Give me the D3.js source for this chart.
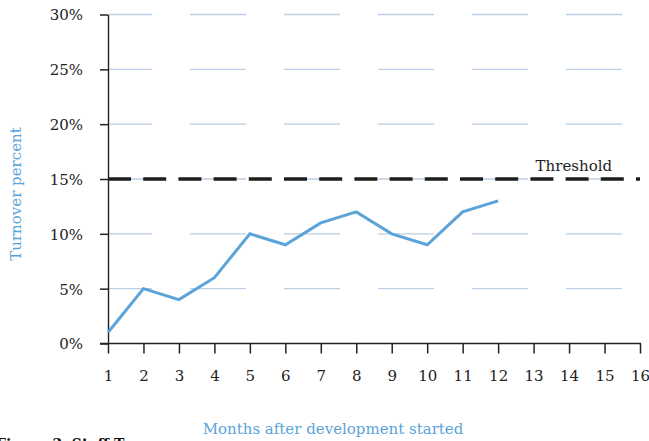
<!DOCTYPE html>
<html>
<head>
<meta charset="utf-8">
<script src="https://cdn.jsdelivr.net/npm/d3@7"></script>
<style>
  body { margin: 0; background: #fff; }
  svg text { font-family: "DejaVu Serif", serif; }
</style>
</head>
<body>
<div class="chart"></div>
<script>
// data
const months = [1, 2, 3, 4, 5, 6, 7, 8, 9, 10, 11, 12];
const turnover = [1, 5, 4, 6, 10, 9, 11, 12, 10, 9, 12, 13];
const xTicks = d3.range(1, 17);
const yTicks = [0, 5, 10, 15, 20, 25, 30];
const threshold = 15;

const W = 649, H = 441;
const margin = {top: 14.5, right: 9, bottom: 97.5, left: 108};
const width = W - margin.left - margin.right,
      height = H - margin.top - margin.bottom;

const svg = d3.select(".chart").append("svg")
  .attr("width", W)
  .attr("height", H);

const g = svg.append("g")
  .attr("transform", "translate(" + margin.left + "," + margin.top + ")");

const x = d3.scaleLinear().domain([1, 16]).range([0, width]);
const y = d3.scaleLinear().domain([0, 30]).range([height, 0]);

// dashed grid lines
g.append("g")
  .selectAll("line")
  .data(yTicks.filter(d => d > 0))
  .enter().append("line")
    .attr("x1", 0)
    .attr("x2", width - 18)
    .attr("y1", d => y(d))
    .attr("y2", d => y(d))
    .attr("stroke", "#b9d0e6")
    .attr("stroke-width", 1.3)
    .attr("stroke-dasharray", "56,38")
    .attr("stroke-dashoffset", 12);

// threshold
g.append("line")
  .attr("x1", 0)
  .attr("x2", width)
  .attr("y1", y(threshold))
  .attr("y2", y(threshold))
  .attr("stroke", "#1e1e1e")
  .attr("stroke-width", 3.5)
  .attr("stroke-dasharray", "23,12.2");

g.append("text")
  .attr("x", x(13) + 2)
  .attr("y", y(threshold) - 8)
  .style("font-size", "15px")
  .attr("fill", "#222")
  .text("Threshold");

// axes
const xAxis = g.append("g")
  .attr("transform", "translate(0," + height + ")")
  .call(d3.axisBottom(x).tickValues(xTicks).tickFormat(d3.format("d")).tickSize(10).tickSizeOuter(0));
xAxis.select(".domain").attr("d", "M-8,0H" + (width + 1));
xAxis.selectAll("text").attr("dy", 0).attr("y", 37.5).style("font-size", "15px").attr("fill", "#222");

const yAxis = g.append("g")
  .call(d3.axisLeft(y).tickValues(yTicks).tickFormat(d => d + "%").tickSize(8).tickSizeOuter(0));
yAxis.selectAll("text").attr("x", -25).attr("dy", "0.36em").style("font-size", "15px").attr("fill", "#222");

[xAxis, yAxis].forEach(a => {
  a.selectAll(".domain, line").attr("stroke", "#222").attr("stroke-width", 1.5);
  a.select(".domain").attr("stroke-width", 1.4);
});

// the data line
const line = d3.line()
  .x((d, i) => x(months[i]))
  .y(d => y(d));

g.append("path")
  .datum(turnover)
  .attr("fill", "none")
  .attr("stroke", "#5ba3d9")
  .attr("stroke-width", 3)
  .attr("stroke-linejoin", "miter")
  .attr("d", line);

// axis titles
svg.append("text")
  .attr("transform", "translate(21," + 194 + ") rotate(-90)")
  .style("text-anchor", "middle")
  .style("font-size", "15px")
  .attr("fill", "#5ba3d9")
  .text("Turnover percent");

svg.append("text")
  .attr("x", 333)
  .attr("y", 434)
  .style("text-anchor", "middle")
  .style("font-size", "15px")
  .attr("fill", "#5ba3d9")
  .text("Months after development started");

// caption, cut off by the page edge
svg.append("text")
  .attr("x", -4)
  .attr("y", 449)
  .style("font-size", "14px")
  .style("font-weight", "bold")
  .attr("fill", "#111")
  .text("Figure 2. Staff Turnover");
</script>
</body>
</html>
